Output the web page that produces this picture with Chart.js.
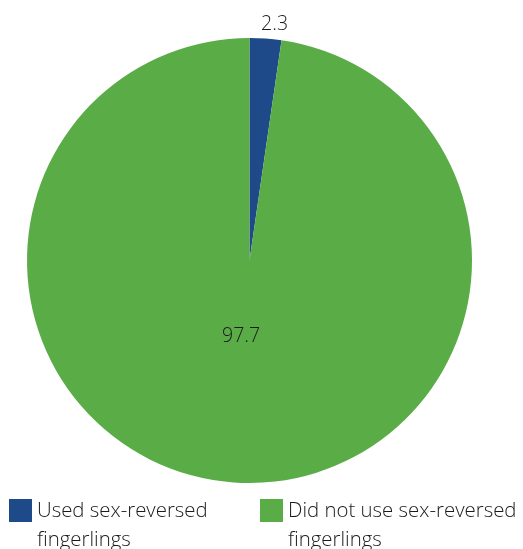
<!DOCTYPE html>
<html>
<head>
<meta charset="utf-8">
<script src="https://cdn.jsdelivr.net/npm/chart.js@4"></script>
<style>
  html, body { margin: 0; padding: 0; background: #fff; overflow: hidden; }
  #wrap { width: 523px; height: 549px; }
</style>
</head>
<body>
<div id="wrap"><canvas id="chart" width="523" height="549"></canvas></div>
<script>
const labels = ['Used sex-reversed fingerlings', 'Did not use sex-reversed fingerlings'];
const values = [2.3, 97.7];
const colors = ['#1f4a8a', '#5aac47'];

const FONT = '300 19.5px "Open Sans", "Noto Sans", sans-serif';
const LEGEND_FONT = '300 20.4px "Open Sans", "Noto Sans", sans-serif';

// value labels: small slice outside, big slice inside
const valueLabels = {
  id: 'valueLabels',
  afterDatasetsDraw(chart) {
    const ctx = chart.ctx;
    const arcs = chart.getDatasetMeta(0).data;
    ctx.save();
    ctx.font = FONT;
    ctx.fillStyle = '#1a1a1a';
    ctx.textAlign = 'center';
    ctx.textBaseline = 'middle';
    arcs.forEach((arc, i) => {
      const p = arc.getProps(['x', 'y', 'startAngle', 'endAngle', 'outerRadius'], true);
      const mid = (p.startAngle + p.endAngle) / 2;
      const d = values[i] < 10 ? p.outerRadius + 14 : p.outerRadius * 0.34;
      const x = p.x + Math.cos(mid) * d + (values[i] < 10 ? 8 : -3);
      const y = p.y + Math.sin(mid) * d;
      ctx.fillText(values[i].toFixed(1), x, y);
    });
    ctx.restore();
  }
};

// legend at the bottom, wrapped text
const bottomLegend = {
  id: 'bottomLegend',
  afterDraw(chart) {
    const ctx = chart.ctx;
    const startX = [9, 260];
    const top = 499;
    ctx.save();
    ctx.font = LEGEND_FONT;
    ctx.textBaseline = 'alphabetic';
    ctx.textAlign = 'left';
    labels.forEach((lab, i) => {
      ctx.fillStyle = colors[i];
      ctx.fillRect(startX[i], top, 23, 23);
      // wrap words
      const words = lab.split(' ');
      let lines = [], cur = '';
      words.forEach(w => {
        const t = cur ? cur + ' ' + w : w;
        if (ctx.measureText(t).width > 240 && cur) { lines.push(cur); cur = w; }
        else cur = t;
      });
      lines.push(cur);
      ctx.fillStyle = '#1a1a1a';
      lines.forEach((ln, j) => {
        ctx.fillText(ln, startX[i] + 28, top + 18 + j * 29);
      });
    });
    ctx.restore();
  }
};

new Chart(document.getElementById('chart'), {
  type: 'pie',
  data: {
    labels: labels,
    datasets: [{
      data: values,
      backgroundColor: colors,
      borderWidth: 0
    }]
  },
  options: {
    responsive: false,
    animation: false,
    layout: { padding: { left: 27, top: 38, right: 51, bottom: 66 } },
    plugins: {
      legend: { display: false },
      tooltip: { enabled: false }
    }
  },
  plugins: [valueLabels, bottomLegend]
});
</script>
</body>
</html>
